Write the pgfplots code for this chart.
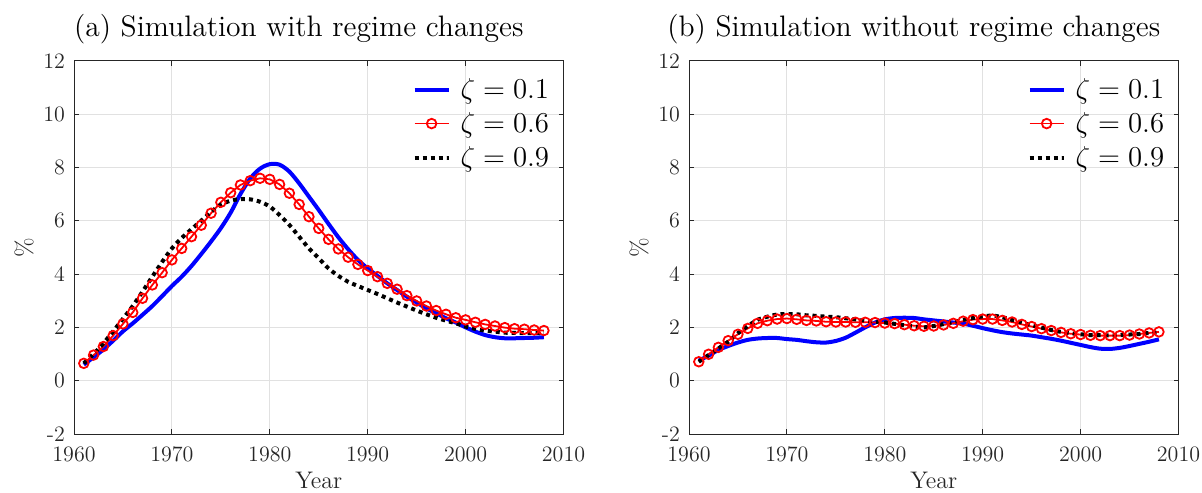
\documentclass[border=0pt]{standalone}
\usepackage{pgfplots}
\pgfplotsset{compat=1.18}
\usepackage{pgfplotstable}
\definecolor{axgray}{RGB}{38,38,38}
\definecolor{gridgray}{RGB}{225,225,225}

\pgfplotstableread{
year b r k
1961 0.60 0.65 0.65
1962 0.88 0.96 1.00
1963 1.17 1.28 1.40
1964 1.50 1.69 1.85
1965 1.85 2.13 2.32
1966 2.15 2.56 2.80
1967 2.47 3.09 3.34
1968 2.80 3.59 3.90
1969 3.17 4.05 4.45
1970 3.55 4.53 4.96
1971 3.90 4.96 5.35
1972 4.30 5.40 5.68
1973 4.75 5.83 6.00
1974 5.22 6.28 6.33
1975 5.72 6.69 6.60
1976 6.30 7.05 6.75
1977 7.00 7.34 6.81
1978 7.58 7.50 6.80
1979 7.95 7.59 6.71
1980 8.12 7.55 6.53
1981 8.10 7.36 6.21
1982 7.84 7.03 5.84
1983 7.40 6.61 5.40
1984 6.90 6.15 4.96
1985 6.40 5.71 4.59
1986 5.88 5.30 4.21
1987 5.38 4.94 3.93
1988 4.93 4.63 3.71
1989 4.53 4.36 3.55
1990 4.21 4.13 3.40
1991 3.93 3.90 3.25
1992 3.65 3.65 3.09
1993 3.40 3.43 2.93
1994 3.15 3.19 2.78
1995 2.93 2.99 2.63
1996 2.71 2.80 2.49
1997 2.53 2.63 2.36
1998 2.34 2.49 2.25
1999 2.18 2.36 2.15
2000 2.00 2.28 2.03
2001 1.84 2.19 1.94
2002 1.71 2.11 1.88
2003 1.63 2.05 1.84
2004 1.59 1.99 1.80
2005 1.59 1.95 1.79
2006 1.60 1.93 1.78
2007 1.61 1.90 1.78
2008 1.63 1.88 1.79
}\tableA

\pgfplotstableread{
year b r k
1961 0.75 0.71 0.71
1962 0.94 0.99 0.96
1963 1.15 1.25 1.21
1964 1.30 1.50 1.46
1965 1.43 1.74 1.78
1966 1.53 1.96 2.05
1967 1.58 2.15 2.28
1968 1.60 2.25 2.40
1969 1.60 2.31 2.48
1970 1.56 2.33 2.50
1971 1.53 2.30 2.49
1972 1.48 2.26 2.45
1973 1.44 2.24 2.43
1974 1.43 2.21 2.40
1975 1.49 2.20 2.38
1976 1.61 2.20 2.34
1977 1.80 2.19 2.30
1978 2.00 2.19 2.25
1979 2.18 2.18 2.21
1980 2.30 2.16 2.18
1981 2.35 2.14 2.13
1982 2.36 2.10 2.08
1983 2.35 2.06 2.03
1984 2.30 2.04 2.00
1985 2.26 2.05 2.05
1986 2.22 2.09 2.12
1987 2.18 2.15 2.20
1988 2.14 2.23 2.28
1989 2.06 2.29 2.35
1990 1.97 2.31 2.41
1991 1.89 2.31 2.44
1992 1.82 2.26 2.38
1993 1.77 2.20 2.28
1994 1.73 2.11 2.18
1995 1.69 2.03 2.08
1996 1.63 1.95 1.99
1997 1.57 1.88 1.90
1998 1.50 1.81 1.83
1999 1.42 1.76 1.78
2000 1.34 1.73 1.74
2001 1.26 1.70 1.71
2002 1.20 1.69 1.71
2003 1.19 1.69 1.70
2004 1.23 1.69 1.71
2005 1.30 1.71 1.73
2006 1.38 1.75 1.75
2007 1.46 1.79 1.79
2008 1.55 1.83 1.81
}\tableB

\pgfplotsset{
  panel/.style={
    scale only axis, width=244.75pt, height=186.65pt,
    xmin=1960, xmax=2010, ymin=-2, ymax=12,
    xtick={1960,1970,1980,1990,2000,2010},
    xticklabels={1960,1970,1980,1990,2000,2010},
    ytick={-2,0,2,4,6,8,10,12},
    yticklabels={-2,0,2,4,6,8,10,12},
    grid=major, major grid style={gridgray, line width=0.5pt},
    axis line style={axgray, line width=0.5pt},
    tick style={axgray, line width=0.5pt},
    tick align=inside, major tick length=2.5pt,
    ticklabel style={font=\fontsize{11}{13}\selectfont, text=axgray},
    xticklabel style={yshift=-3pt},
    yticklabel style={xshift=-1pt},
    xlabel={Year}, ylabel={\%},
    label style={font=\fontsize{12}{14}\selectfont, text=axgray},
    xlabel style={at={(axis description cs:0.5,0)}, anchor=center, yshift=-23pt},
    ylabel style={at={(axis description cs:0,0.5)}, anchor=center, yshift=25pt},
    title style={font=\fontsize{14.8}{17}\selectfont, at={(axis description cs:0.5,1)}, anchor=base, yshift=6pt, xshift=-10pt},
    legend style={draw=none, fill=none, at={(axis description cs:1,1)}, anchor=north east,
      xshift=-2pt, yshift=-4.5pt,
      font=\fontsize{14.4}{17}\selectfont, row sep=1.5pt, column sep=3pt, nodes={inner sep=2pt}},
    legend cell align=left,
    legend image code/.code={\draw[mark repeat=2,mark phase=2,##1] plot coordinates {(0pt,0pt) (8.5pt,0pt) (17pt,0pt)};},
  },
  bl/.style={blue, line width=2pt, smooth},
  rd/.style={red, line width=0.9pt, mark=o, mark size=2.4pt, mark options={line width=0.9pt}},
  bk/.style={black, line width=2pt, dash pattern=on 2pt off 2pt, smooth},
}

\begin{document}
\begin{tikzpicture}
\path[use as bounding box] (-37pt,-29pt) rectangle (564pt,217pt);
\begin{axis}[panel, at={(0pt,0pt)}, title={(a) Simulation with regime changes}]
\addplot[bl] table[x=year,y=b] {\tableA};
\addlegendentry{$\zeta = 0.1$}
\addplot[rd] table[x=year,y=r] {\tableA};
\addlegendentry{$\zeta = 0.6$}
\addplot[bk] table[x=year,y=k] {\tableA};
\addlegendentry{$\zeta = 0.9$}
\end{axis}
\begin{axis}[panel, at={(307.5pt,0pt)}, title={(b) Simulation without regime changes}]
\addplot[bl] table[x=year,y=b] {\tableB};
\addlegendentry{$\zeta = 0.1$}
\addplot[rd] table[x=year,y=r] {\tableB};
\addlegendentry{$\zeta = 0.6$}
\addplot[bk] table[x=year,y=k] {\tableB};
\addlegendentry{$\zeta = 0.9$}
\end{axis}
\end{tikzpicture}
\end{document}
